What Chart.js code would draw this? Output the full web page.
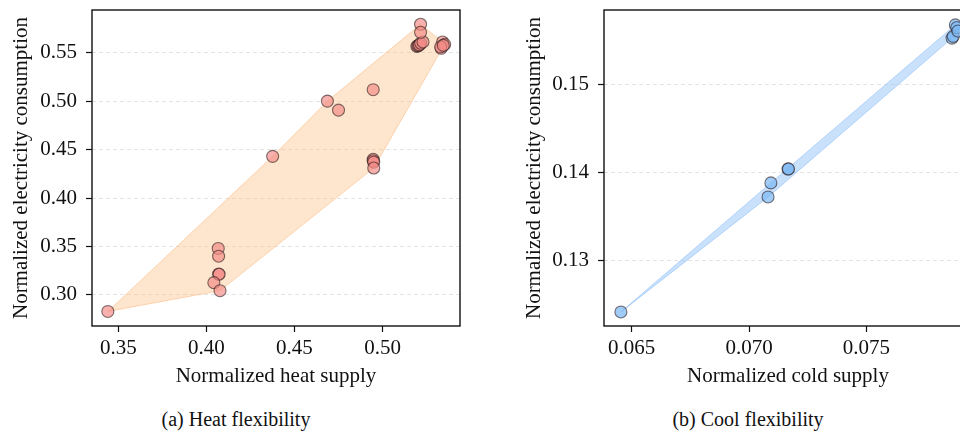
<!DOCTYPE html>
<html lang="en">
<head>
  <meta charset="UTF-8">
  <title>Heat and cool flexibility</title>
  <style>
    html, body { margin: 0; padding: 0; background: #fff; }
    body { width: 960px; height: 435px; overflow: hidden; position: relative; font-family: "Liberation Serif", "Times New Roman", serif; }
    .panel { position: absolute; top: 0; height: 390px; }
    .caption { position: absolute; top: 408px; font-size: 20px; color: #111; transform: translateX(-50%); white-space: nowrap; }
  </style>
  <script src="https://cdn.jsdelivr.net/npm/chart.js"></script>
</head>
<body>
  <div class="panel" style="left:0; width:480px;"><canvas id="heatChart" width="480" height="390"></canvas></div>
  <div class="panel" style="left:480px; width:520px;"><canvas id="coolChart" width="520" height="390"></canvas></div>
  <div class="caption" style="left:236px;">(a) Heat flexibility</div>
  <div class="caption" style="left:748px;">(b) Cool flexibility</div>

  <script>
    // (a) heat flexibility: operating points
    const heatX = [0.344, 0.4376, 0.4687, 0.475,
      0.4067, 0.4069, 0.4069, 0.4072, 0.4042, 0.4077,
      0.4947, 0.4947, 0.4947, 0.4950, 0.4950,
      0.5195, 0.5200, 0.5205, 0.5210, 0.5217, 0.5230, 0.5216, 0.5216,
      0.5341, 0.5333, 0.5353, 0.5330, 0.5345];
    const heatY = [0.283, 0.443, 0.500, 0.4907,
      0.348, 0.340, 0.3216, 0.3214, 0.3127, 0.3044,
      0.5118, 0.440, 0.4385, 0.437, 0.431,
      0.5565, 0.5570, 0.5575, 0.5580, 0.5597, 0.561, 0.5793, 0.571,
      0.561, 0.5545, 0.5586, 0.556, 0.5575];
    // hull around the heat points
    const heatHullX = [0.344, 0.4376, 0.4687, 0.5216, 0.5341, 0.5353, 0.4950, 0.4077, 0.344];
    const heatHullY = [0.283, 0.443, 0.500, 0.5793, 0.561, 0.5586, 0.431, 0.3044, 0.283];
    const heatTicksX = [0.35, 0.40, 0.45, 0.50];
    const heatTicksY = [0.30, 0.35, 0.40, 0.45, 0.50, 0.55];

    // (b) cool flexibility
    const coolX = [0.06454, 0.07081, 0.07093, 0.07166, 0.07168, 0.07865, 0.0787, 0.07879, 0.07885, 0.0789];
    const coolY = [0.1241, 0.1372, 0.1388, 0.14038, 0.1404, 0.1553, 0.1555, 0.1568, 0.1565, 0.1561];
    const coolHullX = [0.06454, 0.07093, 0.07879, 0.0789, 0.07865, 0.07081, 0.06454];
    const coolHullY = [0.1241, 0.1388, 0.1568, 0.1565, 0.1553, 0.1372, 0.1241];
    const coolTicksX = [0.065, 0.070, 0.075];
    const coolTicksY = [0.13, 0.14, 0.15];

    const pairs = (xs, ys) => xs.map((x, i) => ({ x: x, y: ys[i] }));

    const framePlugin = {
      id: 'frame',
      afterDatasetsDraw(chart) {
        const a = chart.chartArea, ctx = chart.ctx;
        ctx.save();
        ctx.strokeStyle = '#111';
        ctx.lineWidth = 1.4;
        ctx.strokeRect(a.left, a.top, a.right - a.left, a.bottom - a.top);
        ctx.restore();
      }
    };

    function makeChart(id, opt) {
      const font = { family: '"Liberation Serif", "Times New Roman", serif', size: 21 };
      return new Chart(document.getElementById(id), {
        type: 'scatter',
        plugins: [framePlugin],
        data: {
          datasets: [{
            data: pairs(opt.x, opt.y),
            pointRadius: 6,
            pointHoverRadius: 6,
            backgroundColor: opt.pointColor,
            borderColor: 'rgba(40,25,25,0.6)',
            borderWidth: 1.1
          }, {
            data: pairs(opt.hullX, opt.hullY),
            showLine: true,
            fill: 'shape',
            tension: 0,
            pointRadius: 0,
            borderWidth: 1,
            borderColor: opt.hullEdge,
            backgroundColor: opt.hullFill
          }]
        },
        options: {
          responsive: false,
          animation: false,
          layout: { padding: { left: opt.padLeft, top: 10, right: opt.padRight, bottom: 0 } },
          plugins: { legend: { display: false }, tooltip: { enabled: false } },
          scales: {
            x: {
              type: 'linear',
              min: opt.xMin, max: opt.xMax,
              afterBuildTicks: s => { s.ticks = opt.ticksX.map(v => ({ value: v })); },
              afterFit: s => { s.height = 64; s.paddingLeft = 0; s.paddingRight = 0; },
              ticks: { color: '#111', font: font, padding: 4, maxRotation: 0,
                callback: v => v.toFixed(opt.xDec) },
              grid: { drawOnChartArea: false, drawTicks: true, tickLength: 6, tickColor: '#111', tickWidth: 1.2 },
              border: { display: false },
              title: { display: true, text: opt.xTitle, color: '#111', font: font, padding: { top: 0, bottom: 1 } }
            },
            y: {
              type: 'linear',
              min: opt.yMin, max: opt.yMax,
              afterBuildTicks: s => { s.ticks = opt.ticksY.map(v => ({ value: v })); },
              afterFit: s => { s.width = opt.yWidth; s.paddingTop = 0; s.paddingBottom = 0; },
              ticks: { color: '#111', font: font, padding: 9,
                callback: v => v.toFixed(2) },
              grid: { color: '#dddddd', lineWidth: 0.8, tickLength: 6, tickColor: '#111', tickWidth: 1.2 },
              border: { display: false, dash: [4, 3] },
              title: { display: true, text: 'Normalized electricity consumption', color: '#111', font: font, padding: { top: 9, bottom: 0 } }
            }
          }
        }
      });
    }

    makeChart('heatChart', {
      x: heatX, y: heatY, hullX: heatHullX, hullY: heatHullY,
      ticksX: heatTicksX, ticksY: heatTicksY,
      xMin: 0.335, xMax: 0.544, yMin: 0.268, yMax: 0.594, xDec: 2,
      padLeft: 0, padRight: 20, yWidth: 92,
      xTitle: 'Normalized heat supply',
      pointColor: 'rgba(243,140,135,0.68)',
      hullFill: 'rgba(253,190,130,0.4)', hullEdge: 'rgba(253,180,120,0.5)'
    });

    makeChart('coolChart', {
      x: coolX, y: coolY, hullX: coolHullX, hullY: coolHullY,
      ticksX: coolTicksX, ticksY: coolTicksY,
      xMin: 0.06382, xMax: 0.0795, yMin: 0.1225, yMax: 0.1585, xDec: 3,
      padLeft: 33, padRight: 28, yWidth: 91,
      xTitle: 'Normalized cold supply',
      pointColor: 'rgba(125,185,242,0.72)',
      hullFill: 'rgba(150,195,250,0.5)', hullEdge: 'rgba(140,190,250,0.6)'
    });
  </script>
</body>
</html>
